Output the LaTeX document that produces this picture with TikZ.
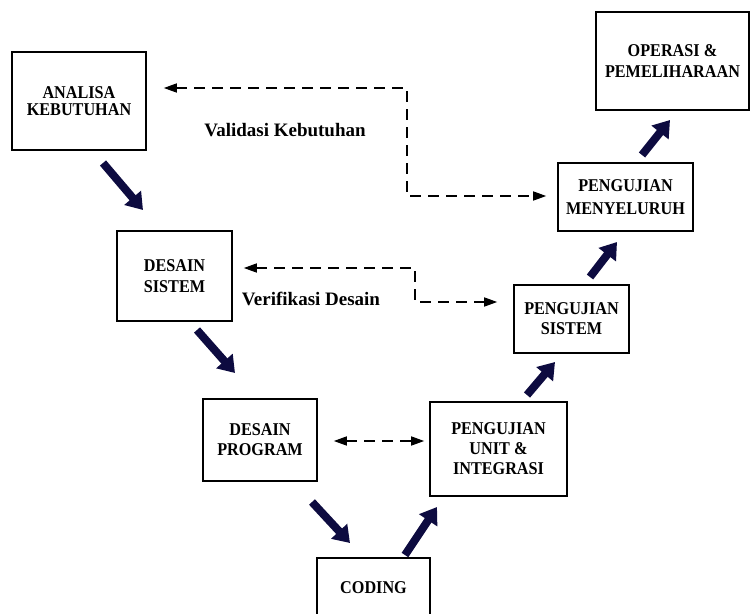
\documentclass[tikz,border=0pt]{standalone}
\usepackage{fontspec}
\setmainfont{Liberation Serif}
\newfontfamily\boxfont[FakeStretch=0.9]{Liberation Serif}
\usetikzlibrary{arrows.meta}
\definecolor{navy}{HTML}{0D0B40}
\tikzset{
  box/.style={draw, line width=1.6pt, inner sep=0pt, align=center,
    font=\boxfont\fontsize{18}{20}\selectfont\bfseries},
  lbl/.style={font=\fontsize{19}{22}\selectfont\bfseries, inner sep=0pt, anchor=base},
  bigarrow/.style={draw=navy, line width=8pt,
    -{Triangle[length=16pt,width=21pt]}, navy},
  dasharrow/.style={draw, line width=1.5pt, dash pattern=on 11pt off 7pt,
    {Triangle[length=13pt,width=9pt]}-{Triangle[length=13pt,width=9pt]}}
}
\begin{document}
\begin{tikzpicture}[x=1pt,y=-1pt]
\useasboundingbox (0,0) rectangle (752,613);
\fill[white] (0,0) rectangle (752,613);

% boxes
\node[box, minimum width=134pt, minimum height=98pt,
  font=\boxfont\fontsize{18}{17.5}\selectfont\bfseries] (analisa) at (79,101) {\raisebox{-2pt}{ANALISA}\\\raisebox{-2pt}{KEBUTUHAN}};
\node[box, minimum width=115pt, minimum height=90pt,
  font=\boxfont\fontsize{18}{21}\selectfont\bfseries] (dsistem) at (174.5,276) {DESAIN\\SISTEM};
\node[box, minimum width=114pt, minimum height=82pt] (program) at (260,440) {DESAIN\\PROGRAM};
\node[box, minimum width=113pt, minimum height=60pt] (coding) at (373.5,588) {CODING};
\node[box, minimum width=137pt, minimum height=94pt] (unit) at (498.5,449) {PENGUJIAN\\UNIT \&\\INTEGRASI};
\node[box, minimum width=115pt, minimum height=68pt] (sistem) at (571.5,319) {PENGUJIAN\\SISTEM};
\node[box, minimum width=135pt, minimum height=68pt,
  font=\boxfont\fontsize{18}{23}\selectfont\bfseries] (menyeluruh) at (625.5,197) {PENGUJIAN\\MENYELURUH};
\node[box, minimum width=153pt, minimum height=98pt,
  font=\boxfont\fontsize{18}{21}\selectfont\bfseries] (operasi) at (672.5,61) {\raisebox{-3pt}{OPERASI \&}\\\raisebox{-3pt}{PEMELIHARAAN}};

% labels
\node[lbl] (lval) at (285,136) {Validasi Kebutuhan};
\node[lbl] (lver) at (311,305) {Verifikasi Desain};

% thick arrows coordinates
\coordinate (a1s) at (103,163); \coordinate (a1e) at (143,210);
\coordinate (a2s) at (197,330); \coordinate (a2e) at (235,373);
\coordinate (a3s) at (312,502); \coordinate (a3e) at (350,543);
\coordinate (a4s) at (405,555); \coordinate (a4e) at (437,507);
\coordinate (a5s) at (527,395); \coordinate (a5e) at (555,362);
\coordinate (a6s) at (590,277); \coordinate (a6e) at (617,242);
\coordinate (a7s) at (642,155); \coordinate (a7e) at (670,120);

\draw[bigarrow] (a1s) -- (a1e);
\draw[bigarrow] (a2s) -- (a2e);
\draw[bigarrow] (a3s) -- (a3e);
\draw[bigarrow] (a4s) -- (a4e);
\draw[bigarrow] (a5s) -- (a5e);
\draw[bigarrow] (a6s) -- (a6e);
\draw[bigarrow] (a7s) -- (a7e);

% dashed connectors
\coordinate (v1) at (407,88);
\coordinate (v2) at (407,196);
\draw[dasharrow, shorten <=17pt, shorten >=11pt]
  (analisa.east |- v1) -- (v1) -- (v2) -- (menyeluruh.west |- v2);

\coordinate (w1) at (415,268);
\coordinate (w2) at (415,302);
\draw[dasharrow, shorten <=11pt, shorten >=16pt]
  (dsistem.east |- w1) -- (w1) -- (w2) -- (sistem.west |- w2);

\coordinate (p1) at (317,441);
\draw[dasharrow, shorten <=16pt, shorten >=5pt]
  (program.east |- p1) -- (unit.west |- p1);
\end{tikzpicture}
\end{document}
